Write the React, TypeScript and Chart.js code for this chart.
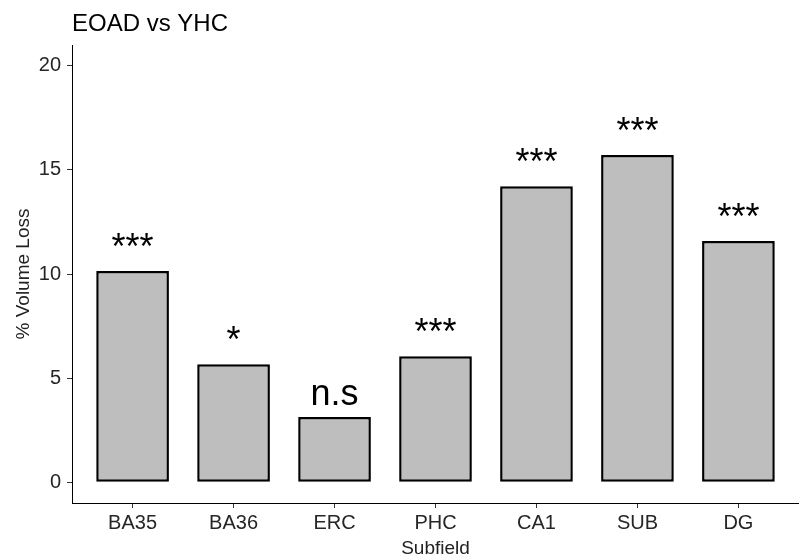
import React, { useEffect, useRef } from "react";
import { Chart, registerables } from "chart.js";

Chart.register(...registerables);

const categories = ["BA35", "BA36", "ERC", "PHC", "CA1", "SUB", "DG"];
const volumeLoss = [10.15, 5.67, 3.13, 6.05, 14.22, 15.72, 11.58];
const significance = ["***", "*", "n.s", "***", "***", "***", "***"];
const yTicks = [0, 5, 10, 15, 20];
const chartTitle = "EOAD vs YHC";
const xTitle = "Subfield";
const yTitle = "% Volume Loss";

const FONT = "'Liberation Sans', Arial, sans-serif";

const overlayPlugin = {
  id: "overlay",
  afterDatasetsDraw(chart: any) {
    const { ctx, chartArea } = chart;
    const yScale = chart.scales.y;
    const meta = chart.getDatasetMeta(0);
    ctx.save();
    ctx.fillStyle = "#000";
    ctx.textAlign = "center";
    ctx.textBaseline = "alphabetic";
    ctx.font = `36px ${FONT}`;
    meta.data.forEach((bar: any, i: number) => {
      const y = yScale.getPixelForValue(volumeLoss[i]) - 12;
      ctx.fillText(significance[i], bar.x, y);
    });
    ctx.textAlign = "left";
    ctx.font = `24px ${FONT}`;
    ctx.fillText(chartTitle, chartArea.left, 31);
    ctx.restore();
  },
};

export default function App() {
  const ref = useRef<HTMLCanvasElement | null>(null);
  useEffect(() => {
    document.body.style.margin = "0";
    if (!ref.current) return;
    const tickFont = { family: FONT, size: 20 };
    const titleFont = { family: FONT, size: 19 };
    const chart = new Chart(ref.current, {
      type: "bar",
      data: {
        datasets: [
          {
            data: categories.map((c, i) => ({ x: i + 1, y: volumeLoss[i] })),
            backgroundColor: "#BEBEBE",
            borderColor: "#000",
            borderWidth: 2.5,
            borderSkipped: false,
            barPercentage: 0.72,
            categoryPercentage: 1,
          } as any,
        ],
      },
      options: {
        animation: false,
        responsive: false,
        devicePixelRatio: 1,
        layout: { padding: { top: 45, right: 0, bottom: 0, left: 0 } },
        plugins: { legend: { display: false }, tooltip: { enabled: false }, title: { display: false } },
        scales: {
          x: {
            type: "linear",
            offset: false,
            min: 0.4,
            max: 7.6,
            afterBuildTicks: (s: any) => {
              s.ticks = categories.map((_, i) => ({ value: i + 1 }));
            },
            afterFit: (s: any) => {
              s.height = 57;
            },
            ticks: {
              callback: (v: any) => categories[Math.round(v) - 1] ?? "",
              font: tickFont,
              color: "#262626",
              padding: 3,
              autoSkip: false,
              maxRotation: 0,
            },
            grid: { display: true, offset: false, drawOnChartArea: false, drawTicks: true, tickLength: 5, color: "#333", lineWidth: 1 },
            border: { display: true, color: "#000", width: 1 },
            title: { display: true, text: xTitle, font: titleFont, color: "#222", padding: { top: 0, bottom: 0 } },
          },
          y: {
            type: "linear",
            min: -1,
            max: 21,
            afterBuildTicks: (s: any) => {
              s.ticks = yTicks.map((v) => ({ value: v }));
            },
            afterFit: (s: any) => {
              s.width = 72;
            },
            ticks: { font: tickFont, color: "#262626", padding: 6 },
            grid: { display: true, drawOnChartArea: false, drawTicks: true, tickLength: 5, color: "#333", lineWidth: 1 },
            border: { display: true, color: "#000", width: 1 },
            title: { display: true, text: yTitle, font: titleFont, color: "#222", padding: { top: 12, bottom: 0 } },
          },
        },
      },
      plugins: [overlayPlugin],
    } as any);
    return () => chart.destroy();
  }, []);
  return (
    <div style={{ width: 799, height: 560, background: "#fff" }}>
      <canvas ref={ref} width={799} height={560} style={{ display: "block" }} />
    </div>
  );
}
